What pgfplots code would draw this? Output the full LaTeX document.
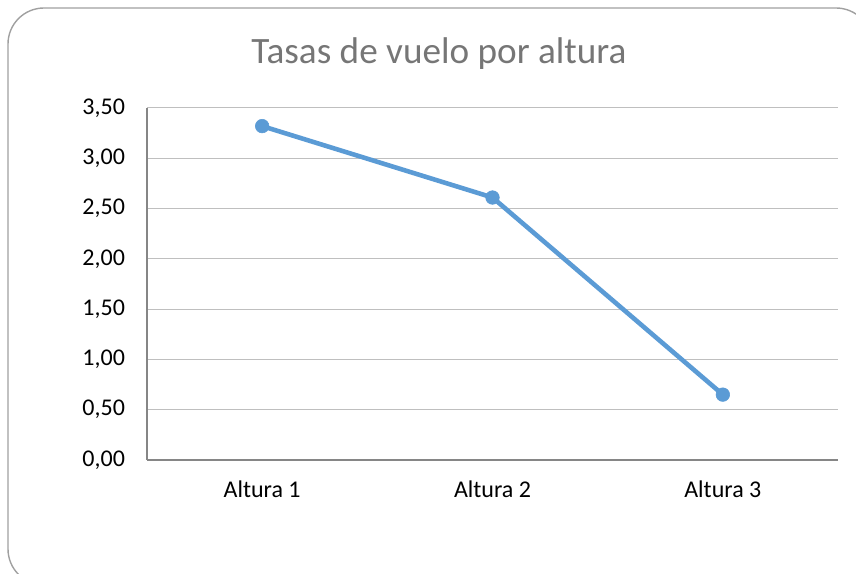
\documentclass[border=0pt]{standalone}
\usepackage{pgfplots}
\pgfplotsset{compat=1.18}
\usepackage{fontspec}
\setmainfont{Carlito}
\definecolor{lineblue}{HTML}{5B9BD5}
\definecolor{gridgray}{HTML}{BFBFBF}
\definecolor{axgray}{HTML}{868686}
\definecolor{titlegray}{HTML}{767676}
\definecolor{framegray}{HTML}{A0A0A0}
\begin{document}
\begin{tikzpicture}[x=1pt,y=1pt]
\clip (0,0) rectangle (428,286.5);
\useasboundingbox (0,0) rectangle (428,286.5);
\draw[framegray, line width=0.7pt, rounded corners=18pt] (4,-6) rectangle (436,282.5);
\node[titlegray, font=\fontsize{18.6}{22}\selectfont] at (219.5,259.5) {Tasas de vuelo por altura};
\begin{axis}[
  at={(73.5pt,56.5pt)}, anchor=south west,
  scale only axis, width=345.5pt, height=176pt,
  xmin=0, xmax=3, ymin=0, ymax=3.5,
  xtick={0.5,1.5,2.5}, xticklabels={Altura 1,Altura 2,Altura 3},
  ytick={0,0.5,1,1.5,2,2.5,3,3.5},
  yticklabel={\pgfmathprintnumber[fixed,fixed zerofill,precision=2,use comma]{\tick}},
  /pgf/number format/assume math mode=true,
  axis x line=bottom, axis y line=left,
  axis line style={axgray, line width=0.6pt, -},
  major tick length=0pt,
  ymajorgrids, grid style={gridgray, line width=0.5pt},
  tick label style={font=\fontsize{12}{14}\selectfont, black},
  yticklabel style={xshift=-7.5pt},
  xticklabel style={yshift=-7pt},
  clip=false,
]
\addplot[lineblue, line width=2.3pt, mark=*, mark size=3.4pt, mark options={solid, fill=lineblue, draw=lineblue, line width=0.3pt}]
  coordinates {(0.5,3.32) (1.5,2.61) (2.5,0.65)};
\end{axis}
\end{tikzpicture}
\end{document}
